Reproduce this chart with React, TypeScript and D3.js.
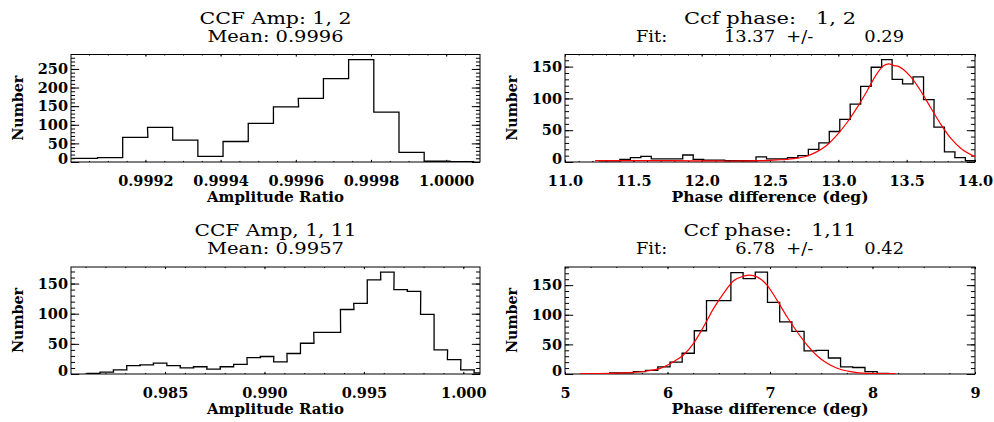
import React, { useRef, useEffect } from "react"
import * as d3 from "d3"

// ---- values ----

// CCF amplitude ratio, channels 1, 2 (histogram bin centres and counts)
const amp12Centers = [
  0.999039, 0.999106, 0.999173, 0.999239, 0.999306, 0.999373, 0.99944, 0.999507,
  0.999574, 0.99964, 0.999707, 0.999774, 0.999841, 0.999908, 0.999975, 1.000041,
]
const amp12Counts = [10, 12, 66, 93, 59, 15, 55, 104, 148, 171, 224, 275, 134, 26, 2, 1]
const amp12Ticks = [0.9992, 0.9994, 0.9996, 0.9998, 1.0]

// CCF phase, channels 1, 2
const ph12Centers = [
  11.287, 11.364, 11.44, 11.517, 11.593, 11.67, 11.747, 11.823, 11.9, 11.976,
  12.053, 12.13, 12.206, 12.283, 12.359, 12.436, 12.513, 12.589, 12.666, 12.742,
  12.819, 12.896, 12.972, 13.049, 13.125, 13.202, 13.279, 13.355, 13.432, 13.508,
  13.585, 13.662, 13.738, 13.815, 13.891, 13.968,
]
const ph12Counts = [
  2, 2, 4, 7, 9, 5, 5, 5, 11, 4, 3, 3, 2, 2, 2, 8, 5, 5, 7, 10,
  20, 30, 48, 67, 91, 119, 149, 161, 130, 123, 134, 98, 55, 16, 7, 2,
]
// gaussian fit curve, sampled from the red line
const ph12FitX = [
  11.22, 11.696, 12.185, 12.429, 12.551, 12.674, 12.771, 12.845, 12.918, 12.991,
  13.064, 13.138, 13.211, 13.284, 13.333, 13.37, 13.407, 13.443, 13.48, 13.529,
  13.602, 13.675, 13.749, 13.822, 13.895, 14.0,
]
const ph12FitY = [
  2.1, 2.1, 1.6, 2.1, 3.2, 5.3, 9.5, 16.3, 26.8, 42.6,
  62.1, 85.8, 112.1, 139.5, 151.6, 154.2, 151.6, 150.0, 144.7, 134.2,
  112.1, 85.8, 59.5, 37.4, 21.6, 8.4,
]
const ph12Ticks = [11.0, 11.5, 12.0, 12.5, 13.0, 13.5, 14.0]

// CCF amplitude ratio, channels 1, 11
const amp111Centers = [
  0.98139, 0.98207, 0.98274, 0.98341, 0.98408, 0.98475, 0.98543, 0.9861, 0.98677, 0.98744,
  0.98811, 0.98879, 0.98946, 0.99013, 0.9908, 0.99147, 0.99215, 0.99282, 0.99349, 0.99416,
  0.99483, 0.99551, 0.99618, 0.99685, 0.99752, 0.99819, 0.99887, 0.99954, 1.00021, 1.00088,
]
const amp111Counts = [
  1, 3, 7, 14, 15, 18, 14, 10, 12, 8, 12, 16, 27, 29, 20,
  34, 51, 69, 69, 107, 117, 156, 169, 140, 137, 99, 40, 24, 7, 2,
]
const amp111Ticks = [0.985, 0.99, 0.995, 1.0]

// CCF phase, channels 1, 11
const ph111Centers = [
  5.489, 5.608, 5.727, 5.846, 5.965, 6.084, 6.202, 6.321, 6.44, 6.559, 6.678, 6.797,
  6.916, 7.035, 7.154, 7.273, 7.392, 7.51, 7.629, 7.748, 7.867, 7.986, 8.105,
]
const ph111Counts = [2, 2, 4, 6, 12, 20, 35, 73, 124, 124, 171, 161, 172, 121, 88, 72, 39, 40, 27, 12, 11, 4, 1]
const ph111FitX = [
  5.147, 5.44, 5.668, 5.798, 5.928, 6.059, 6.156, 6.254, 6.352, 6.45, 6.547, 6.645, 6.743,
  6.801, 6.873, 6.971, 7.068, 7.166, 7.264, 7.362, 7.459, 7.557, 7.655, 7.785, 7.948, 8.225,
]
const ph111FitY = [
  0.6, 1.1, 2.8, 5.1, 9.6, 20.8, 32.0, 51.7, 79.8, 110.7, 136.0, 157.3, 165.2,
  166.9, 164.0, 150.0, 124.7, 96.6, 71.3, 48.9, 30.9, 18.0, 9.6, 3.9, 1.1, 0.6,
]
const ph111Ticks = [5, 6, 7, 8, 9]

const Y_MAJOR = 50
const Y_MINOR = 10

interface Box { x0: number; x1: number; y0: number; y1: number }

interface PanelSpec {
  id: string
  title: [string, string]
  titleWidths: [number, number]
  xLabel: string
  xLabelWidth: number
  xDomain: [number, number]
  xTicks: number[]
  xMinor: number
  xFormat: (v: number) => string
  centers: number[]
  counts: number[]
  fitX?: number[]
  fitY?: number[]
  box: Box
}

const SERIF = "'DejaVu Serif', serif"

const stepValues = (lo: number, hi: number, step: number) =>
  d3.range(Math.ceil(lo / step - 1e-6), Math.floor(hi / step + 1e-6) + 1).map(i => +(i * step).toFixed(10))

const Panel: React.FC<{ spec: PanelSpec }> = ({ spec }) => {
  const ref = useRef<SVGGElement | null>(null)

  useEffect(() => {
    const g = d3.select(ref.current)
    g.selectAll("*").remove()

    const { x0, x1, y0, y1 } = spec.box
    const x = d3.scaleLinear().domain(spec.xDomain).range([x0, x1])
    const yMax = (d3.max(spec.counts) as number) * 1.05
    const y = d3.scaleLinear().domain([0, yMax]).range([y1, y0])

    // IDL style tick lengths: 2% of the plot size
    const tickX = 0.02 * (y1 - y0)
    const tickY = 0.02 * (x1 - x0)

    const xMinor = stepValues(spec.xDomain[0], spec.xDomain[1], spec.xMinor)
    const yMajor = stepValues(0, yMax, Y_MAJOR)
    const yMinor = stepValues(0, yMax, Y_MINOR)

    const labelFont = (sel: any) => sel
      .attr("font-family", SERIF)
      .attr("font-size", 14.5)
      .attr("font-weight", "bold")

    const noDomain = (a: any) => a.select(".domain").remove()

    // AXES (ticks point inward on all four sides)
    g.append("g").attr("transform", `translate(0,${y1})`)
      .call(d3.axisBottom(x).tickValues(xMinor).tickSizeInner(-tickX / 2).tickSizeOuter(0).tickFormat(() => ""))
      .call(noDomain)
    g.append("g").attr("transform", `translate(0,${y1})`)
      .call(d3.axisBottom(x).tickValues(spec.xTicks).tickSizeInner(-tickX).tickSizeOuter(0)
        .tickPadding(14).tickFormat((d: any) => spec.xFormat(d)))
      .call(noDomain)
      .call(labelFont)
    g.append("g").attr("transform", `translate(0,${y0})`)
      .call(d3.axisTop(x).tickValues(xMinor).tickSizeInner(-tickX / 2).tickSizeOuter(0).tickFormat(() => ""))
      .call(noDomain)
    g.append("g").attr("transform", `translate(0,${y0})`)
      .call(d3.axisTop(x).tickValues(spec.xTicks).tickSizeInner(-tickX).tickSizeOuter(0).tickFormat(() => ""))
      .call(noDomain)

    g.append("g").attr("transform", `translate(${x0},0)`)
      .call(d3.axisLeft(y).tickValues(yMinor).tickSizeInner(-tickY / 2).tickSizeOuter(0).tickFormat(() => ""))
      .call(noDomain)
    g.append("g").attr("transform", `translate(${x0},0)`)
      .call(d3.axisLeft(y).tickValues(yMajor).tickSizeInner(-tickY).tickSizeOuter(0)
        .tickPadding(3).tickFormat(d3.format("d")))
      .call(noDomain)
      .call(labelFont)
      .call((a: any) => a.selectAll(".tick text").filter((d: number) => d === 0).attr("y", -3.5))
    g.append("g").attr("transform", `translate(${x1},0)`)
      .call(d3.axisRight(y).tickValues(yMinor).tickSizeInner(-tickY / 2).tickSizeOuter(0).tickFormat(() => ""))
      .call(noDomain)
    g.append("g").attr("transform", `translate(${x1},0)`)
      .call(d3.axisRight(y).tickValues(yMajor).tickSizeInner(-tickY).tickSizeOuter(0).tickFormat(() => ""))
      .call(noDomain)

    g.append("rect")
      .attr("x", x0).attr("y", y0)
      .attr("width", x1 - x0).attr("height", y1 - y0)
      .attr("fill", "none").attr("stroke", "black").attr("stroke-width", 1)

    // HISTOGRAM (IDL psym=10 style steps, full width end bins)
    const clipId = `clip-${spec.id}`
    g.append("clipPath").attr("id", clipId)
      .append("rect").attr("x", x0).attr("y", y0 - 2).attr("width", x1 - x0).attr("height", y1 - y0 + 2)

    const w = spec.centers[1] - spec.centers[0]
    const steps: [number, number][] = []
    spec.centers.forEach((c, i) => {
      steps.push([c - w / 2, spec.counts[i]], [c + w / 2, spec.counts[i]])
    })
    const line = d3.line<[number, number]>().x(d => x(d[0])).y(d => y(d[1]))

    g.append("path")
      .attr("clip-path", `url(#${clipId})`)
      .attr("d", line(steps))
      .attr("fill", "none").attr("stroke", "black").attr("stroke-width", 1.3)

    if (spec.fitX && spec.fitY) {
      const fit = spec.fitX.map((v, i) => [v, spec.fitY![i]] as [number, number])
      g.append("path")
        .attr("clip-path", `url(#${clipId})`)
        .attr("d", line.curve(d3.curveMonotoneX)(fit))
        .attr("fill", "none").attr("stroke", "#ff0000").attr("stroke-width", 1.2)
    }

    // TEXT
    const cx = (x0 + x1) / 2
    spec.title.forEach((t, i) => {
      g.append("text")
        .attr("x", cx).attr("y", y0 - 31 + i * 18.4)
        .attr("text-anchor", "middle")
        .attr("font-family", SERIF).attr("font-size", 17)
        .attr("textLength", spec.titleWidths[i]).attr("lengthAdjust", "spacingAndGlyphs")
        .style("white-space", "pre")
        .text(t)
    })

    g.append("text")
      .attr("x", cx).attr("y", y1 + 39.5)
      .attr("text-anchor", "middle")
      .attr("textLength", spec.xLabelWidth).attr("lengthAdjust", "spacingAndGlyphs")
      .call(labelFont)
      .text(spec.xLabel)

    g.append("text")
      .attr("transform", `translate(${x0 - 48},${(y0 + y1) / 2}) rotate(-90)`)
      .attr("text-anchor", "middle")
      .attr("textLength", 65).attr("lengthAdjust", "spacingAndGlyphs")
      .call(labelFont)
      .text("Number")
  }, [spec])

  return <g ref={ref} />
}

const panels: PanelSpec[] = [
  {
    id: "amp12",
    title: ["CCF Amp: 1, 2", "Mean: 0.9996"],
    titleWidths: [152, 136],
    xLabel: "Amplitude Ratio",
    xLabelWidth: 137,
    xDomain: [0.999002, 1.00009],
    xTicks: amp12Ticks,
    xMinor: 0.00005,
    xFormat: d3.format(".4f"),
    centers: amp12Centers,
    counts: amp12Counts,
    box: { x0: 71, x1: 480, y0: 54.5, y1: 162 },
  },
  {
    id: "ph12",
    title: ["Ccf phase:   1, 2", "Fit:          13.37  +/-         0.29"],
    titleWidths: [172, 268],
    xLabel: "Phase difference (deg)",
    xLabelWidth: 197,
    xDomain: [11, 14],
    xTicks: ph12Ticks,
    xMinor: 0.1,
    xFormat: d3.format(".1f"),
    centers: ph12Centers,
    counts: ph12Counts,
    fitX: ph12FitX,
    fitY: ph12FitY,
    box: { x0: 565, x1: 975, y0: 54.5, y1: 162 },
  },
  {
    id: "amp111",
    title: ["CCF Amp, 1, 11", "Mean: 0.9957"],
    titleWidths: [162, 137],
    xLabel: "Amplitude Ratio",
    xLabelWidth: 137,
    xDomain: [0.98027, 1.00084],
    xTicks: amp111Ticks,
    xMinor: 0.001,
    xFormat: d3.format(".3f"),
    centers: amp111Centers,
    counts: amp111Counts,
    box: { x0: 71, x1: 480, y0: 267, y1: 374 },
  },
  {
    id: "ph111",
    title: ["Ccf phase:   1,11", "Fit:            6.78  +/-         0.42"],
    titleWidths: [173, 268],
    xLabel: "Phase difference (deg)",
    xLabelWidth: 197,
    xDomain: [5, 9],
    xTicks: ph111Ticks,
    xMinor: 0.25,
    xFormat: d3.format("d"),
    centers: ph111Centers,
    counts: ph111Counts,
    fitX: ph111FitX,
    fitY: ph111FitY,
    box: { x0: 565, x1: 975, y0: 267, y1: 374 },
  },
]

const App: React.FC = () => (
  <svg
    width={994}
    height={422}
    viewBox="0 0 994 422"
    style={{ position: "absolute", left: 0, top: 0, background: "white" }}
  >
    {panels.map(p => <Panel key={p.id} spec={p} />)}
  </svg>
)

export default App
